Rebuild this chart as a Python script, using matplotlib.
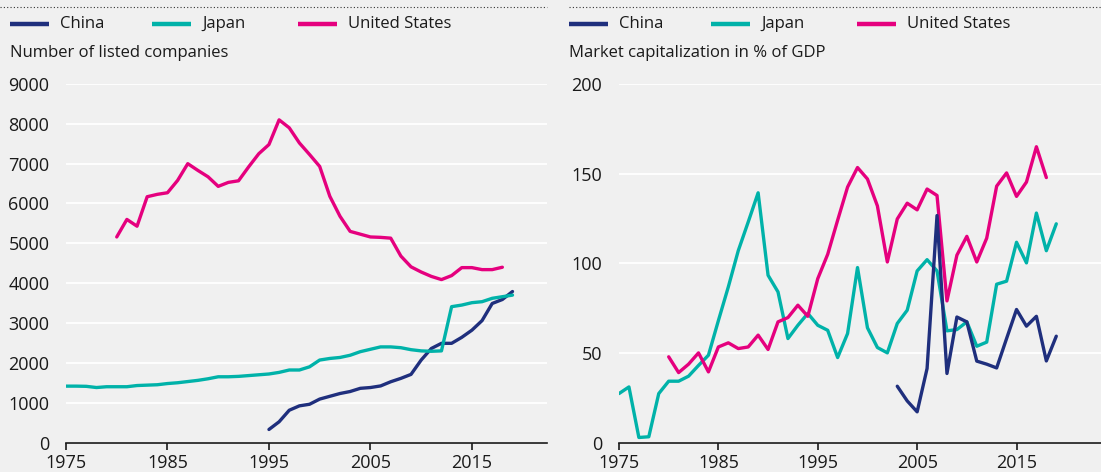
import matplotlib.pyplot as plt
from matplotlib.lines import Line2D

plt.rcParams['font.family'] = ['Open Sans', 'DejaVu Sans']

# Listed companies (left panel)
years_cn_count = list(range(1995, 2020))
china_count = [327, 520, 810, 920, 960, 1090, 1160, 1230, 1280, 1360, 1380, 1420, 1525, 1610,
               1710, 2070, 2360, 2490, 2490, 2640, 2820, 3060, 3490, 3590, 3790]
years_jp_count = list(range(1975, 2020))
japan_count = [1415, 1415, 1410, 1380, 1400, 1400, 1400, 1430, 1440, 1450, 1480, 1500, 1530, 1560,
               1600, 1650, 1650, 1660, 1680, 1700, 1720, 1760, 1820, 1820, 1900, 2070, 2110, 2135,
               2190, 2280, 2340, 2400, 2400, 2380, 2330, 2300, 2290, 2300, 3410, 3450, 3510, 3535,
               3620, 3660, 3700]
years_us_count = list(range(1980, 2019))
us_count = [5160, 5600, 5430, 6170, 6230, 6270, 6580, 7000, 6830, 6670, 6430, 6530, 6570, 6920,
            7250, 7480, 8100, 7900, 7520, 7230, 6930, 6180, 5680, 5300, 5230, 5160, 5150, 5130,
            4680, 4410, 4280, 4170, 4090, 4190, 4390, 4390, 4340, 4340, 4400]

# Market capitalization in % of GDP (right panel)
years_cn_cap = list(range(2003, 2020))
china_cap = [31.4, 23.2, 17.1, 41.3, 126.6, 38.5, 70, 67.3, 45.4, 43.7, 41.6, 58, 74.2, 64.9,
             70.4, 45.5, 59.3]
years_jp_cap = list(range(1975, 2020))
japan_cap = [27.3, 31, 2.8, 3.2, 27.3, 34.2, 34.2, 37, 43, 48.7, 68, 86.8, 107, 123, 139.3, 93.3,
             84, 58, 65.4, 72, 65.4, 62.6, 47.4, 60.8, 97.6, 64, 53, 50, 66.4, 73.8, 95.7, 102,
             95.7, 62.3, 63, 67.3, 53.7, 56, 88.3, 90, 111.7, 100.2, 128, 107, 122]
years_us_cap = list(range(1980, 2019))
us_cap = [47.8, 39, 43.7, 50, 39.4, 53.3, 55.6, 52.4, 53.3, 59.9, 51.9, 67.3, 69.7, 76.6, 70.4,
          91.4, 105, 124, 142.5, 153.4, 147, 132, 100.7, 124.7, 133.5, 129.8, 141.4, 137.8, 79,
          104.5, 115, 100.7, 114, 143, 150.4, 137.3, 145.3, 165, 147.8]

series_names = ['China', 'Japan', 'United States']
colors = ['#1f2f7d', '#00b2a9', '#e5007e']
bg = '#f0f0f0'

fig = plt.figure(figsize=(11.01, 4.72), dpi=100, facecolor=bg)

W, H = 1101, 472


def style_axes(ax, ymax, ystep, xmax):
    ax.set_facecolor(bg)
    ax.set_xlim(1975, xmax)
    ax.set_ylim(0, ymax)
    ax.set_yticks(range(0, ymax + 1, ystep))
    ax.set_xticks([1975, 1985, 1995, 2005, 2015])
    ax.grid(axis='y', color='white', linewidth=1.3)
    ax.set_axisbelow(True)
    for s in ['top', 'right', 'left']:
        ax.spines[s].set_visible(False)
    ax.spines['bottom'].set_color('#1a1a1a')
    ax.spines['bottom'].set_linewidth(1.2)
    ax.tick_params(axis='y', length=0, pad=12, labelsize=13, labelcolor='#1a1a1a')
    ax.tick_params(axis='x', length=5, width=1.2, color='#1a1a1a', pad=3,
                   labelsize=13, labelcolor='#1a1a1a')
    for lab in ax.get_yticklabels():
        lab.set_zorder(5)


def legend_and_title(x0, x1, subtitle):
    fig.add_artist(Line2D([x0 / W, x1 / W], [1 - 7 / H, 1 - 7 / H], color='#333333',
                          linestyle=(0, (1, 2)), linewidth=0.8))
    offsets = [0, 142, 288]
    for name, c, off in zip(series_names, colors, offsets):
        lx = x0 + 10 + off if x0 == 0 else x0 + off
        fig.add_artist(Line2D([lx / W, (lx + 39) / W], [1 - 24 / H, 1 - 24 / H],
                              color=c, linewidth=3.2, solid_capstyle='butt'))
        fig.text((lx + 50) / W, 1 - 24 / H, name, fontsize=12, va='center', ha='left',
                 color='#1a1a1a')
    tx = 10 if x0 == 0 else x0
    fig.text(tx / W, 1 - 53 / H, subtitle, fontsize=12, va='center', ha='left', color='#1a1a1a')


ax1 = fig.add_axes([66 / W, 1 - 442.5 / H, 481 / W, 358.5 / H])
style_axes(ax1, 9000, 1000, 2022.4)
ax1.plot(years_us_count, us_count, color=colors[2], linewidth=2.4, solid_capstyle='round')
ax1.plot(years_cn_count, china_count, color=colors[0], linewidth=2.4, solid_capstyle='round')
ax1.plot(years_jp_count, japan_count, color=colors[1], linewidth=2.4, solid_capstyle='round')

ax2 = fig.add_axes([619 / W, 1 - 442.5 / H, 482 / W, 358.5 / H])
style_axes(ax2, 200, 50, 2023.5)
ax2.plot(years_jp_cap, japan_cap, color=colors[1], linewidth=2.4, solid_capstyle='round')
ax2.plot(years_us_cap, us_cap, color=colors[2], linewidth=2.4, solid_capstyle='round')
ax2.plot(years_cn_cap, china_cap, color=colors[0], linewidth=2.4, solid_capstyle='round')

legend_and_title(0, 547, 'Number of listed companies')
legend_and_title(569, 1101, 'Market capitalization in % of GDP')

fig.savefig('out.png', dpi=100, facecolor=bg)
